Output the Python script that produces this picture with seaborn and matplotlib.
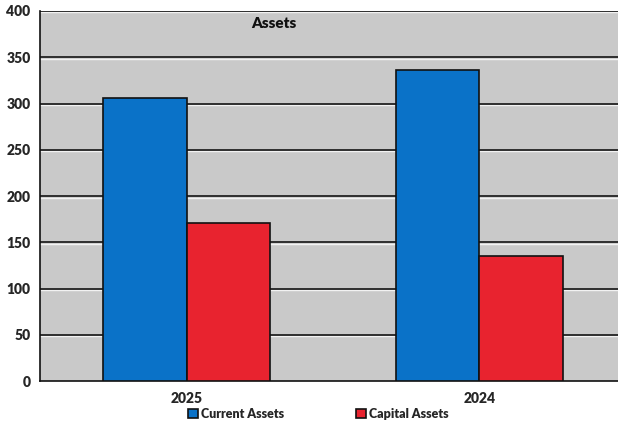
"""Assets bar chart: current vs capital assets by year."""

import pandas as pd
import matplotlib.pyplot as plt
import matplotlib.transforms as mtransforms
import seaborn as sns

# Data
years = ['2025', '2024']
series = ['Current Assets', 'Capital Assets']
current_assets = [306, 336]
capital_assets = [171, 135]

COLORS = {
    'Current Assets': '#0a72c8',
    'Capital Assets': '#e8232f',
}

df = pd.DataFrame({
    'Year': years * 2,
    'Series': [series[0]] * len(years) + [series[1]] * len(years),
    'Value': current_assets + capital_assets,
})

sns.set_theme(style='white')
plt.rcParams['font.family'] = ['Lato', 'DejaVu Sans']
plt.rcParams['font.weight'] = 'heavy'

fig = plt.figure(figsize=(6.18, 4.23), dpi=100)
fig.patch.set_facecolor('white')
ax = fig.add_axes([0.065, 0.099, 0.935, 0.875])
ax.set_facecolor('#c9c9c9')

sns.barplot(data=df, x='Year', y='Value', hue='Series', order=years,
            hue_order=series, palette=COLORS, width=0.57, saturation=1,
            edgecolor='#111111', linewidth=1.2, ax=ax, zorder=3)

# gridlines: dark line with a light highlight just below
shift = mtransforms.ScaledTranslation(0, -1.5 / 100, fig.dpi_scale_trans)
for yv in range(50, 401, 50):
    ax.plot([0, 1], [yv, yv], color='#f2f2f2', lw=1.0, zorder=1,
            transform=ax.get_yaxis_transform() + shift, clip_on=False)
    ax.axhline(yv, color='#222222', lw=1.3, zorder=2)

ax.set_ylim(0, 400)
ax.set_xlim(-0.5, 1.473)
ax.set_yticks(range(0, 401, 50))
ax.set_xticks([0.5], minor=True)
ax.tick_params(axis='x', which='major', length=0, pad=8, labelsize=10)
ax.tick_params(axis='x', which='minor', length=5, width=1, color='#222222')
ax.tick_params(axis='y', length=4, width=1, color='#222222', labelsize=10, pad=3)
for lab in ax.get_xticklabels() + ax.get_yticklabels():
    lab.set_fontweight('heavy')

for side in ['top', 'right']:
    ax.spines[side].set_visible(False)
for side in ['left', 'bottom']:
    ax.spines[side].set_color('#111111')
    ax.spines[side].set_linewidth(1.2)

ax.set_xlabel('')
ax.set_ylabel('')
ax.text(0.405, 0.985, 'Assets', transform=ax.transAxes, ha='center', va='top',
        fontsize=11, fontweight='heavy', color='#111111')

handles, labels = ax.get_legend_handles_labels()
ax.legend_.remove()
fig.legend(handles, labels, loc='center', bbox_to_anchor=(0.515, 0.022), ncol=2,
           frameon=False, fontsize=9, handlelength=0.8, handleheight=0.8,
           handletextpad=0.2, columnspacing=5.8, borderaxespad=0)

fig.savefig('out.png', dpi=100)
